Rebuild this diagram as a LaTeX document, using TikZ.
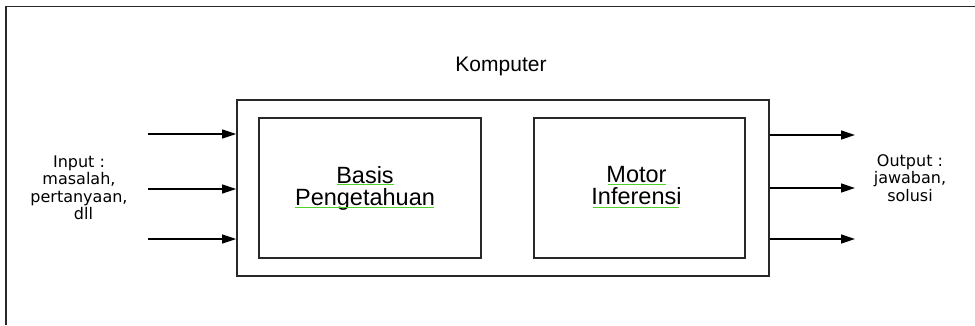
\documentclass[tikz,border=0pt]{standalone}
\usepackage{fontspec}
\setmainfont{Liberation Sans}
\newfontfamily\smallsans{DejaVu Sans}
\usetikzlibrary{arrows.meta}
\definecolor{boxline}{RGB}{40,40,40}
\definecolor{spellgreen}{RGB}{80,210,40}
\tikzset{
  x=1pt, y=-1pt,
  box/.style={draw=boxline, line width=1.8pt, rectangle, inner sep=0pt},
  boxtext/.style={inner sep=0pt, align=center, font=\fontsize{23.5}{22}\selectfont},
  arr/.style={draw=black, line width=1.4pt, -{Triangle[length=14pt,width=9pt]}},
  sidetext/.style={align=center, inner sep=0pt, font=\smallsans\fontsize{16}{17.5}\selectfont},
  squiggle/.style={draw=spellgreen, line width=1pt},
}
\begin{document}
\begin{tikzpicture}
\useasboundingbox (0,0) rectangle (975,325);
\fill[white] (0,0) rectangle (975,325);
% outer frame (top and left)
\draw[boxline, line width=1.5pt] (975,6.5) -- (6,6.5) -- (6,325);

% title
\node[inner sep=0pt, font=\fontsize{21}{21}\selectfont] (title) at (501,66) {Komputer};

% boxes
\node[box, minimum width=532pt, minimum height=176pt] (kom) at (503,188) {};
\node[box, minimum width=222pt, minimum height=140pt] (kb) at (370,188) {};
\node[box, minimum width=211pt, minimum height=140pt] (mi) at (639.5,188) {};
\node[boxtext] (kbt) at ([xshift=-5pt]kb.center) {Basis\\Pengetahuan};
\node[boxtext] (mit) at ([xshift=-3pt]mi.center) {Motor\\Inferensi\vphantom{g}};

% spell-check underlines
\draw[squiggle] (337,184) -- (394,184);
\draw[squiggle] (295,207) -- (434,207);
\draw[squiggle] (608,184) -- (666,184);
\draw[squiggle] (593,207) -- (679,207);

% input arrows
\coordinate (i1) at (148,134);
\coordinate (i2) at (148,189);
\coordinate (i3) at (148,239);
\draw[arr] (i1) -- (i1 -| kom.west);
\draw[arr] (i2) -- (i2 -| kom.west);
\draw[arr] (i3) -- (i3 -| kom.west);

% output arrows
\coordinate (o1) at (855,135);
\coordinate (o2) at (855,188);
\coordinate (o3) at (855,239);
\draw[arr] (o1 -| kom.east) -- (o1);
\draw[arr] (o2 -| kom.east) -- (o2);
\draw[arr] (o3 -| kom.east) -- (o3);

% side texts
\node[sidetext] (input) at (79,188) {Input :\\masalah,\\pertanyaan,\\\hspace*{9pt}dll};
\node[sidetext] (output) at (910,178) {Output :\\jawaban,\\solusi};
\end{tikzpicture}
\end{document}
